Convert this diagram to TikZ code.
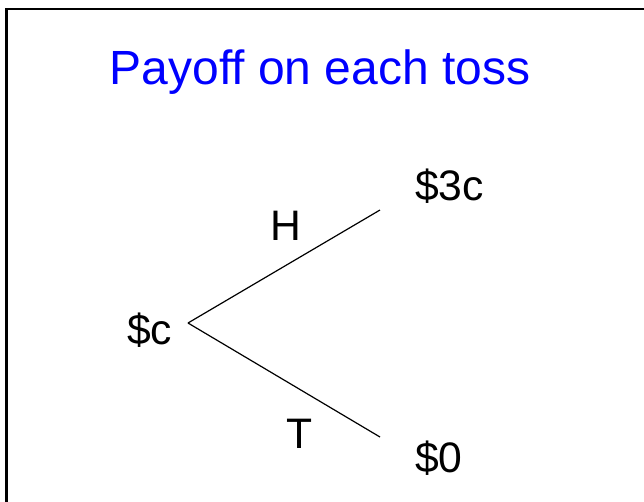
\documentclass[tikz,border=0pt]{standalone}
\usepackage{fontspec}
\setmainfont{Liberation Sans}
\usepackage{tikz}
\usetikzlibrary{positioning}
\definecolor{titleblue}{RGB}{0,0,255}
\tikzset{
    titletext/.style={font=\fontsize{36}{40}\selectfont, text=titleblue, inner sep=0pt, anchor=base},
    valuetext/.style={font=\fontsize{32}{36}\selectfont, inner sep=0pt, anchor=base west},
    branchlabel/.style={font=\fontsize{32}{36}\selectfont, inner sep=0pt, anchor=base},
    branch/.style={line width=0.9pt, draw=black},
    frameline/.style={line width=1.6pt, draw=black},
}
\begin{document}
\begin{tikzpicture}[x=0.75pt, y=-0.75pt]
    % Page and frame
    \clip (0,0) rectangle (644,501);
    \draw[frameline] (6.5,9) rectangle (680,540);

    % Title
    \node[titletext] (title) at (320,84) {Payoff on each toss};

    % Values
    \node[valuetext] (start) at (127,344) {\$c};
    \node[valuetext] (win) at (415,200) {\$3c};
    \node[valuetext] (lose) at (415,472) {\$0};

    % Branch ends
    \coordinate (root) at (188,323);
    \coordinate (headsend) at (380,210);
    \coordinate (tailsend) at (380,437);

    % Branches
    \draw[branch] (root) -- (headsend);
    \draw[branch] (root) -- (tailsend);
    \node[branchlabel] (heads) at (286,240) {H};
    \node[branchlabel] (tails) at (300,448) {T};
\end{tikzpicture}
\end{document}
